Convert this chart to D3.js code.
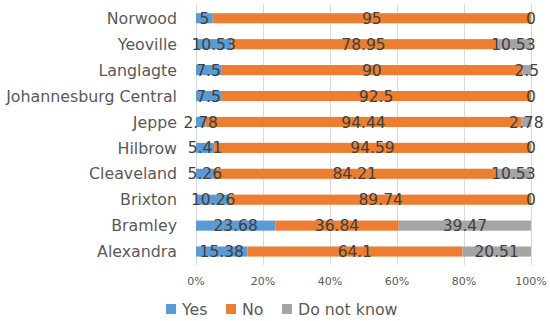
<!DOCTYPE html>
<html lang="en">
<head>
<meta charset="UTF-8">
<title>Stacked bars</title>
<style>
  body { margin: 0; background: #fff; font-family: "DejaVu Sans", Verdana, sans-serif; }
  .grid line { stroke: #d9d9d9; stroke-width: 1; }
  .cat { fill: #595959; font-size: 15.8px; }
  .tick-lbl { fill: #595959; font-size: 11px; }
  .val { fill: #404040; font-size: 15.5px; }
  .leg { fill: #595959; font-size: 15.8px; }
</style>
</head>
<body>
<svg id="chart" width="550" height="321"></svg>
<script src="https://d3js.org/d3.v7.min.js"></script>
<script>
// data (top to bottom)
const areas = ["Norwood", "Yeoville", "Langlagte", "Johannesburg Central", "Jeppe",
               "Hilbrow", "Cleaveland", "Brixton", "Bramley", "Alexandra"];
const yes = [5, 10.53, 7.5, 7.5, 2.78, 5.41, 5.26, 10.26, 23.68, 15.38];
const no = [95, 78.95, 90, 92.5, 94.44, 94.59, 84.21, 89.74, 36.84, 64.1];
const dontKnow = [0, 10.53, 2.5, 0, 2.78, 0, 10.53, 0, 39.47, 20.51];
const seriesNames = ["Yes", "No", "Do not know"];
const colors = ["#5b9bd5", "#ed7d31", "#a5a5a5"];
const xTicks = [0, 20, 40, 60, 80, 100];

const svg = d3.select("#chart");

const x = d3.scaleLinear().domain([0, 100]).range([196, 531]);
const y = d3.scaleBand().domain(areas).range([5.3, 264.5]).paddingInner(0.61).paddingOuter(0.305);

// gridlines
svg.append("g").attr("class", "grid")
  .selectAll("line").data(xTicks).enter().append("line")
  .attr("x1", d => x(d) + 0.5).attr("x2", d => x(d) + 0.5)
  .attr("y1", 4).attr("y2", 265);

// tick labels
svg.append("g").selectAll("text").data(xTicks).enter().append("text")
  .attr("class", "tick-lbl")
  .attr("x", d => x(d)).attr("y", 285)
  .attr("text-anchor", "middle")
  .text(d => d + "%");

// stack the rows
const rows = areas.map((a, i) => ({ area: a, Yes: yes[i], No: no[i], "Do not know": dontKnow[i] }));
const stacked = d3.stack().keys(seriesNames)(rows);

const layers = svg.append("g").selectAll("g").data(stacked).enter().append("g")
  .attr("fill", (d, i) => colors[i]);

layers.selectAll("rect").data(d => d).enter().append("rect")
  .attr("x", d => x(d[0]))
  .attr("width", d => x(d[1]) - x(d[0]))
  .attr("y", d => y(d.data.area))
  .attr("height", y.bandwidth());

// category labels
svg.append("g").selectAll("text").data(areas).enter().append("text")
  .attr("class", "cat")
  .attr("x", 177)
  .attr("y", d => y(d) + y.bandwidth() / 2)
  .attr("dy", "0.36em")
  .attr("text-anchor", "end")
  .text(d => d);

// value labels, centered in each segment
stacked.forEach(layer => {
  svg.append("g").selectAll("text").data(layer).enter().append("text")
    .attr("class", "val")
    .attr("x", d => x((d[0] + d[1]) / 2))
    .attr("y", d => y(d.data.area) + y.bandwidth() / 2)
    .attr("dy", "0.36em")
    .attr("text-anchor", "middle")
    .text(d => d.data[layer.key]);
});

// legend
const legX = [166, 226, 282];
const leg = svg.append("g").selectAll("g").data(seriesNames).enter().append("g")
  .attr("transform", (d, i) => `translate(${legX[i]},304)`);
leg.append("rect").attr("width", 10).attr("height", 10).attr("fill", (d, i) => colors[i]);
leg.append("text").attr("class", "leg").attr("x", 16).attr("y", 5).attr("dy", "0.36em").text(d => d);
</script>
</body>
</html>
